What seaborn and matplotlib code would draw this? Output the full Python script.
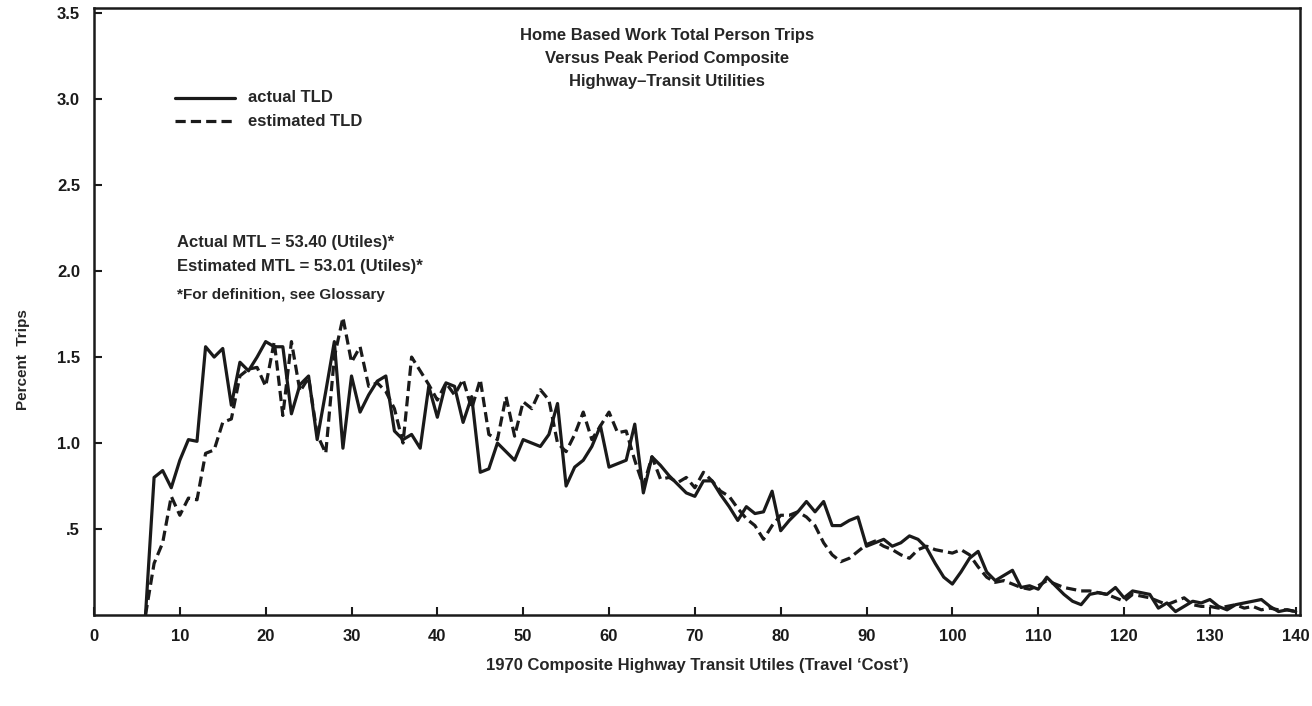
import numpy as np
import pandas as pd
import matplotlib
matplotlib.use("Agg")
import matplotlib.pyplot as plt
import seaborn as sns
from matplotlib import font_manager
from matplotlib.lines import Line2D

# ---------------- data ----------------
utiles = list(range(6, 141))

actual_tld = [
    0.00, 0.80, 0.84, 0.74, 0.90, 1.02, 1.01, 1.56, 1.50, 1.55,   # 6-15
    1.22, 1.47, 1.42, 1.50, 1.59, 1.56, 1.56, 1.17, 1.34, 1.39,   # 16-25
    1.02, 1.30, 1.59, 0.97, 1.39, 1.18, 1.28, 1.36, 1.39, 1.07,   # 26-35
    1.02, 1.05, 0.97, 1.33, 1.15, 1.35, 1.33, 1.12, 1.27, 0.83,   # 36-45
    0.85, 1.00, 0.95, 0.90, 1.02, 1.00, 0.98, 1.05, 1.23, 0.75,   # 46-55
    0.86, 0.90, 0.98, 1.10, 0.86, 0.88, 0.90, 1.11, 0.71, 0.92,   # 56-65
    0.87, 0.81, 0.76, 0.71, 0.69, 0.78, 0.78, 0.70, 0.63, 0.55,   # 66-75
    0.63, 0.59, 0.60, 0.72, 0.49, 0.55, 0.60, 0.66, 0.60, 0.66,   # 76-85
    0.52, 0.52, 0.55, 0.57, 0.40, 0.42, 0.44, 0.40, 0.42, 0.46,   # 86-95
    0.44, 0.39, 0.30, 0.22, 0.18, 0.25, 0.33, 0.37, 0.25, 0.20,   # 96-105
    0.23, 0.26, 0.16, 0.17, 0.15, 0.22, 0.17, 0.12, 0.08, 0.06,   # 106-115
    0.12, 0.13, 0.12, 0.16, 0.10, 0.14, 0.13, 0.12, 0.04, 0.07,   # 116-125
    0.02, 0.05, 0.08, 0.07, 0.09, 0.05, 0.03, 0.06, 0.07, 0.08,   # 126-135
    0.09, 0.05, 0.02, 0.03, 0.02,                                 # 136-140
]

estimated_tld = [
    0.00, 0.30, 0.42, 0.69, 0.58, 0.68, 0.67, 0.94, 0.96, 1.12,   # 6-15
    1.14, 1.39, 1.43, 1.44, 1.33, 1.59, 1.16, 1.59, 1.30, 1.38,   # 16-25
    1.05, 0.94, 1.50, 1.73, 1.47, 1.56, 1.33, 1.35, 1.30, 1.20,   # 26-35
    1.00, 1.50, 1.42, 1.34, 1.25, 1.35, 1.28, 1.37, 1.20, 1.37,   # 36-45
    1.05, 1.02, 1.27, 1.04, 1.24, 1.20, 1.31, 1.25, 1.00, 0.95,   # 46-55
    1.05, 1.18, 1.02, 1.10, 1.18, 1.06, 1.07, 0.90, 0.75, 0.92,   # 56-65
    0.79, 0.80, 0.77, 0.80, 0.74, 0.83, 0.78, 0.72, 0.69, 0.62,   # 66-75
    0.56, 0.52, 0.44, 0.52, 0.58, 0.58, 0.60, 0.57, 0.52, 0.42,   # 76-85
    0.35, 0.31, 0.33, 0.37, 0.41, 0.43, 0.40, 0.38, 0.35, 0.33,   # 86-95
    0.38, 0.40, 0.38, 0.37, 0.36, 0.38, 0.35, 0.28, 0.22, 0.19,   # 96-105
    0.20, 0.18, 0.16, 0.15, 0.17, 0.20, 0.18, 0.16, 0.15, 0.14,   # 106-115
    0.14, 0.13, 0.12, 0.10, 0.08, 0.12, 0.11, 0.10, 0.08, 0.06,   # 116-125
    0.08, 0.10, 0.06, 0.05, 0.05, 0.04, 0.05, 0.06, 0.04, 0.05,   # 126-135
    0.03, 0.04, 0.03, 0.03, 0.02,                                 # 136-140
]

x_ticks = list(range(0, 141, 10))
y_ticks = [0.5, 1.0, 1.5, 2.0, 2.5, 3.0, 3.5]
y_tick_labels = [".5", "1.0", "1.5", "2.0", "2.5", "3.0", "3.5"]

title_lines = ["Home Based Work Total Person Trips",
               "Versus Peak Period Composite",
               "Highway\u2013Transit Utilities"]
series_names = ["actual TLD", "estimated TLD"]
note_lines = ["Actual MTL = 53.40 (Utiles)*",
              "Estimated MTL = 53.01 (Utiles)*"]
footnote = "*For definition, see Glossary"
x_label = "1970 Composite Highway Transit Utiles (Travel \u2018Cost\u2019)"
y_label = "Percent  Trips"

# ---------------- style ----------------
sns.set_style("ticks")
names = {f.name for f in font_manager.fontManager.ttflist}
fam = ["Liberation Sans Narrow", "DejaVu Sans"] if "Liberation Sans Narrow" in names else ["Liberation Sans", "DejaVu Sans"]
plt.rcParams["font.family"] = fam
plt.rcParams["font.weight"] = "bold"

df = pd.DataFrame({
    "utiles": utiles * 2,
    "pct": actual_tld + estimated_tld,
    "series": [series_names[0]] * len(utiles) + [series_names[1]] * len(utiles),
})

fig = plt.figure(figsize=(13.12, 7.06), dpi=100)
ax = fig.add_axes([94 / 1312, 1 - 615 / 706, (1300 - 94) / 1312, (615 - 8) / 706])

sns.lineplot(data=df, x="utiles", y="pct", style="series",
             dashes={series_names[0]: "", series_names[1]: (3.2, 1.6)},
             color="#1a1a1a", linewidth=2.3, legend=False, ax=ax)

ax.set_xlim(0, 140.5)
ax.set_ylim(0, 3.53)
ax.set_xticks(x_ticks)
ax.set_xticklabels([str(v) for v in x_ticks], fontsize=12, fontweight="bold")
ax.set_yticks(y_ticks)
ax.set_yticklabels(y_tick_labels, fontsize=12, fontweight="bold")
ax.tick_params(axis="both", direction="in", length=6, width=1.5, colors="#1a1a1a")
ax.tick_params(axis="x", pad=10)
ax.tick_params(axis="y", pad=10)
for s in ax.spines.values():
    s.set_visible(True)
    s.set_linewidth(1.8)
    s.set_color("#1a1a1a")

ax.set_xlabel(x_label, fontsize=12, fontweight="bold", labelpad=10)
ax.set_ylabel(y_label, fontsize=11, fontweight="bold")
ax.yaxis.set_label_coords(-0.053, 0.42)

# title inside plot
for i, line in enumerate(title_lines):
    ax.text(0.475, 0.955 - i * 0.038, line, transform=ax.transAxes,
            ha="center", va="center", fontsize=12, fontweight="bold")

# legend drawn as in the original figure
lx0, lx1 = 175 / 1312, 235 / 1312
for i, (name, ls) in enumerate(zip(series_names, ["-", (0, (3.2, 1.6))])):
    yy = 1 - (98 + i * 23) / 706
    fig.add_artist(Line2D([lx0, lx1], [yy, yy], transform=fig.transFigure,
                          color="#1a1a1a", lw=2.3, linestyle=ls))
    fig.text(248 / 1312, yy, name, ha="left", va="center",
             fontsize=12, fontweight="bold")

for i, line in enumerate(note_lines):
    fig.text(177 / 1312, 1 - (243 + i * 23) / 706, line, ha="left",
             va="center", fontsize=12, fontweight="bold")
fig.text(177 / 1312, 1 - 295 / 706, footnote, ha="left", va="center",
         fontsize=11, fontweight="bold")

fig.savefig("out.png", dpi=100, facecolor="white")
